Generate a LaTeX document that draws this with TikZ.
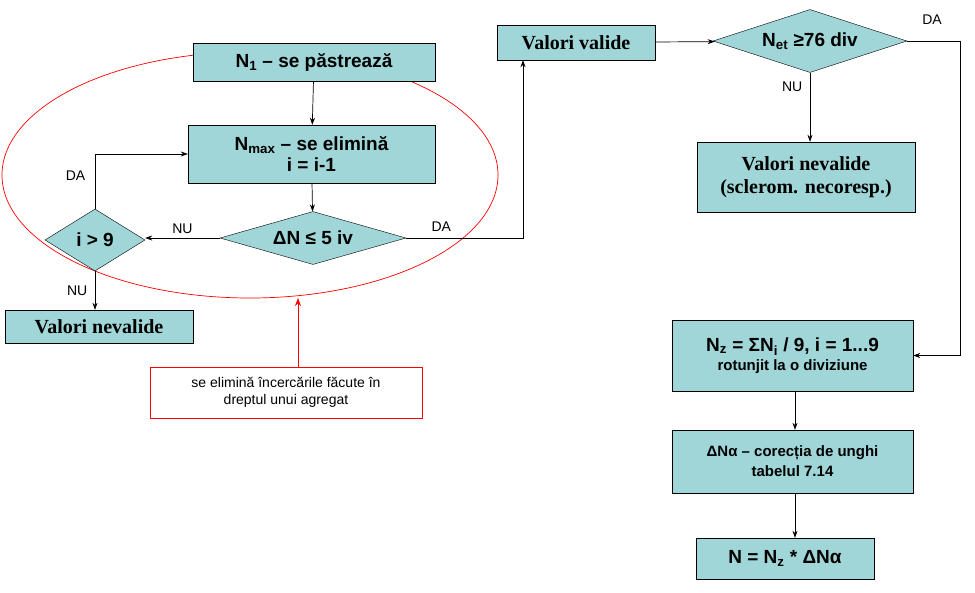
\documentclass[tikz,border=0pt]{standalone}
\usepackage{fontspec}
\setmainfont{Liberation Sans}
\newfontfamily\serifb{Liberation Serif}
\usetikzlibrary{shapes.geometric,arrows.meta}
\definecolor{boxc}{RGB}{160,214,216}
\tikzset{
 bx/.style={draw,fill=boxc,inner sep=0pt,align=center,font=\fontsize{19}{21}\selectfont\bfseries},
 dm/.style={draw,fill=boxc,diamond,inner sep=0pt,font=\fontsize{19}{21}\selectfont\bfseries},
 lb/.style={font=\fontsize{14}{16}\selectfont},
 ar/.style={-{Stealth[length=7pt,width=5pt]},line width=0.7pt},
}
\begin{document}
\begin{tikzpicture}[x=1pt,y=-1pt]
\useasboundingbox (0,0) rectangle (975,592);
\draw[red,line width=0.7pt] (250,175) ellipse [x radius=248,y radius=123];
\node[bx,minimum width=242,minimum height=38] (n1) at (314,62) {N\textsubscript{1} – se păstrează};
\node[bx,minimum width=247,minimum height=58] (nm) at (311.5,154) {N\textsubscript{max} – se elimină\\i = i-1};
\node[dm,minimum width=186,minimum height=53,aspect=3.5] (d1) at (313,238) {ΔN ≤ 5 iv};
\node[dm,minimum width=100,minimum height=62,aspect=1.6] (d2) at (95,240) {i > 9};
\node[bx,minimum width=188,minimum height=33,font=\serifb\fontsize{20}{22}\selectfont\bfseries] (vn1) at (99,326.5) {Valori nevalide};
\node[draw=red,fill=white,minimum width=272,minimum height=51,align=center,inner sep=0pt,font=\fontsize{14}{17}\selectfont] (rb) at (286,392.5) {se elimină încercările făcute în\\dreptul unui agregat};
\coordinate (eb) at (298,298);
\draw[red,-{Stealth[length=8pt,width=6pt]},line width=0.7pt] (rb.north -| eb) -- (eb);
\node[bx,minimum width=158,minimum height=35,font=\serifb\fontsize{20}{22}\selectfont\bfseries] (vv) at (576,42.5) {Valori valide};
\node[dm,minimum width=194,minimum height=63,aspect=3.1] (d3) at (810,41) {N\textsubscript{et} ≥76 div};
\node[bx,minimum width=218,minimum height=70,font=\serifb\fontsize{20}{23}\selectfont\bfseries] (vn2) at (806,177) {Valori nevalide\\(sclerom. necoresp.)};
\node[bx,minimum width=241,minimum height=71] (nz) at (792.5,355.5) {N\textsubscript{z} = ΣN\textsubscript{i} / 9, i = 1...9\\[-2pt]{\fontsize{15}{17}\selectfont rotunjit la o diviziune}};
\node[bx,minimum width=241,minimum height=63,font=\fontsize{15}{20}\selectfont\bfseries] (da) at (792.5,461.5) {ΔNα – corecția de unghi\\tabelul 7.14};
\node[bx,minimum width=178,minimum height=41] (nn) at (785,558.5) {N = N\textsubscript{z} * ΔNα};
\draw[ar] (n1) -- (nm);
\draw[ar] (nm) -- (d1);
\draw[ar] (d1.west) -- (d2.east|-d1.west) node[lb,midway,above=1pt] {NU};
\draw[ar] (d2.north) |- (nm.west) node[lb,pos=0.3,left=6pt] {DA};
\draw[ar] (d2.south) -- (vn1.north-|d2.south) node[lb,midway,left=4pt] {NU};
\draw[ar] (d1.east) -| (vv.south-|523,0) node[lb,pos=0.15,above=3pt] {DA};
\draw[ar] (vv) -- (d3);
\draw[ar] (d3.south) -- (vn2.north-|d3.south) node[lb,pos=0.2,left=4pt] {NU};
\draw[ar] (d3.east) -- (960,41) |- (nz.east);
\node[lb] (dal) at (932,20) {DA};
\draw[ar] (nz.south-|795,0) -- (da.north-|795,0);
\draw[ar] (da.south-|795,0) -- (nn.north-|795,0);
\end{tikzpicture}
\end{document}
